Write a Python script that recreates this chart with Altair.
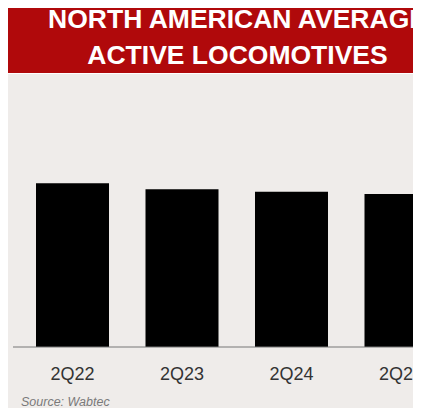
import altair as alt
import pandas as pd

quarters = ["2Q22", "2Q23", "2Q24", "2Q25"]
values = [100.0, 96.2, 94.7, 93.3]
title_lines = ["NORTH AMERICAN AVERAGE", "ACTIVE LOCOMOTIVES"]
source_text = "Source: Wabtec"

df = pd.DataFrame({"quarter": quarters, "value": values})

W, H = 405, 272
BOTTOM = 61
FONT = "Liberation Sans"
RED = "#b0090b"
GRAY_BG = "#efecea"

bg = alt.Chart(pd.DataFrame({"k": [0]})).mark_rect(color=GRAY_BG).encode(
    x=alt.value(0), x2=alt.value(W), y=alt.value(-1), y2=alt.value(H + BOTTOM)
)

banner = alt.Chart(pd.DataFrame({"k": [0]})).mark_rect(color=RED).encode(
    x=alt.value(0), x2=alt.value(W), y=alt.value(-67), y2=alt.value(-2)
)

bars = alt.Chart(df).mark_bar(color="#000000", clip=True).encode(
    x=alt.X(
        "quarter:N",
        sort=quarters,
        scale=alt.Scale(range=[9.75, 447.75], paddingInner=0.3333, paddingOuter=0.1667),
        axis=alt.Axis(
            title=None,
            domain=False,
            ticks=False,
            labelAngle=0,
            labelFontSize=18,
            labelFont=FONT,
            labelColor="#333333",
            labelPadding=18,
            zindex=1,
        ),
    ),
    y=alt.Y("value:Q", scale=alt.Scale(domain=[0, 166]), axis=None),
)

axis_line = alt.Chart(pd.DataFrame({"k": [0]})).mark_rule(color="#777777", strokeWidth=1).encode(
    x=alt.value(5), x2=alt.value(W), y=alt.value(H)
)

title_df = pd.DataFrame({"line": title_lines, "ypos": [-47, -11]})
title = alt.Chart(title_df).mark_text(
    color="white", font=FONT, fontSize=26.5, fontWeight="bold", align="center", baseline="alphabetic"
).encode(
    x=alt.value(229.5), y=alt.Y("ypos:Q", scale=None), text="line:N"
)

source = alt.Chart(pd.DataFrame({"t": [source_text]})).mark_text(
    color="#7a7a7a", font=FONT, fontSize=12.5, fontStyle="italic", align="left", baseline="alphabetic"
).encode(x=alt.value(13), y=alt.value(H + BOTTOM - 2), text="t:N")

chart = alt.layer(bg, banner, bars, axis_line, title, source).properties(
    width=W,
    height=H,
    padding={"left": 0, "top": 67, "right": 0, "bottom": BOTTOM},
    autosize=alt.AutoSizeParams(type="none"),
    background="white",
).configure_view(stroke=None)

chart.save("out.html", embed_options={"renderer": "svg", "actions": False})
